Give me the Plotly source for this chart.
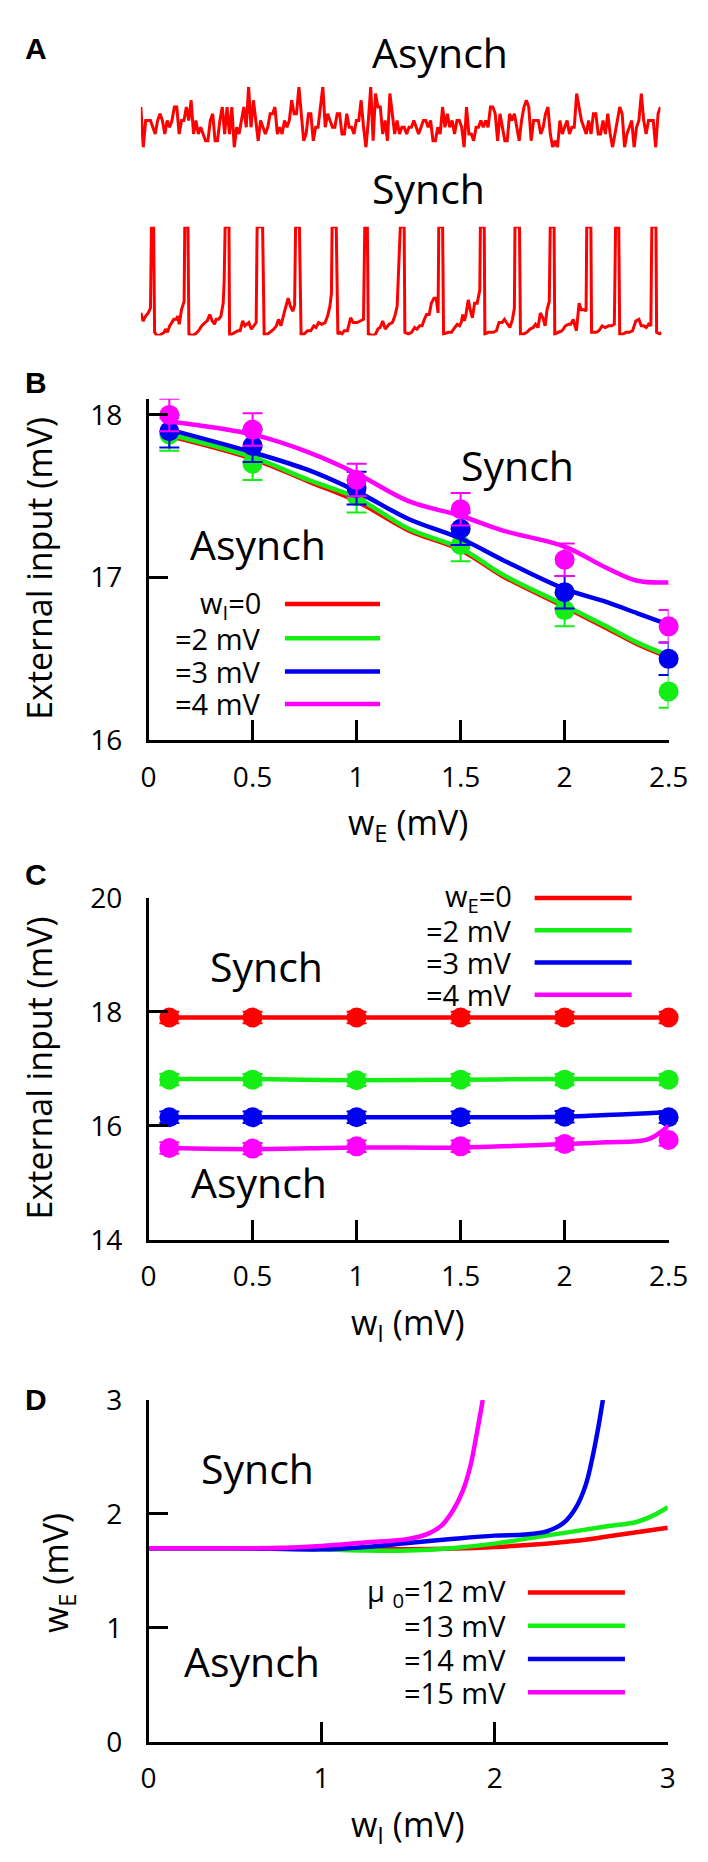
import plotly.graph_objects as go

W, H = 708, 1862
RED, GREEN, BLUE, MAG = "#ff0000", "#14ee14", "#0000f0", "#ff00ff"
FONT = "Open Sans"

# ---------------- Panel A data ----------------
asynch_rate = [6, 0, 4, 4, 4, 3, 2, 4, 5, 4, 2, 4, 3, 4, 6, 6, 2, 4, 4, 6, 4, 7, 2, 4, 2, 3, 2, 1, 1, 4,
               5, 1, 1, 4, 6, 2, 6, 2, 6, 0, 3, 2, 4, 6, 3, 9, 3, 7, 4, 1, 4, 3, 2, 3, 5, 5, 6, 2, 3, 2,
               4, 3, 4, 7, 5, 5, 9, 5, 1, 2, 5, 5, 1, 3, 3, 6, 9, 3, 5, 4, 3, 3, 5, 5, 2, 2, 5, 3, 3, 2,
               4, 4, 7, 3, 0, 4, 9, 1, 8, 6, 6, 2, 4, 1, 8, 5, 2, 4, 2, 3,
               3, 2, 3, 3, 4, 3, 2, 3, 4, 4, 3, 4, 1, 1, 3, 2, 6, 3, 5, 3, 4, 2, 4, 4, 3, 0, 6, 2, 2, 1,
               3, 3, 4, 3, 4, 3, 6, 6, 5, 1, 5, 3, 1, 1, 5, 4, 5, 3, 1, 4, 6, 7, 6, 1, 4, 4, 4, 2, 3, 5,
               6, 2, 0, 1, 0, 4, 2, 3, 4, 2, 3, 3, 8, 6, 4, 3, 2, 4, 2, 5, 5, 2, 2, 4, 2, 5, 2, 0, 2, 4,
               6, 5, 0, 2, 3, 4, 0, 3, 4, 8, 4, 2, 4, 4, 4, 0, 5, 6]

synch_t = [0, 2.3, 5, 7.7, 10,
           11, 13.3,
           14.3, 16.7, 19, 21.7, 24.3, 25.7, 27.7, 30, 32.3, 34.3, 36.7, 38.3, 40, 42.3, 45,
           45.7, 49,
           50, 53.3, 56.7, 60, 63.3, 66.7, 69, 71.7, 74.3, 76.7, 78.3, 81, 83.3, 85.7, 86.7,
           87.7, 91.7,
           92.3, 95, 98.3, 101, 103.3, 106, 108.3, 110, 112.3, 115, 117.7, 120,
           121, 126.7,
           128.3, 131.7, 134.3, 136.7, 138.3, 141, 143.3, 145.7, 147.7, 150, 153.3, 155.7, 158.3, 160,
           161, 165,
           166.7, 170, 173.3, 176.7, 180, 182.3, 185, 188.3, 191.7, 194.3, 196.7, 198.3,
           199, 203.3,
           205, 207.3, 209.3, 211.7, 215, 218.3, 221, 225, 228.3, 231.7,
           233, 235.7,
           236.7, 241, 244.3, 246.7, 249, 251.7, 254.3, 258.3, 261.7, 264.3, 266.7,
           270, 274,
           274.7, 278.3, 281.7, 285, 287.3, 290, 292.7, 295, 297.3, 300, 302.3, 305, 307.3, 309.3,
           310, 314,
           315, 320, 323.3, 326.7, 329.3, 331.7, 333.3, 335, 336.7, 338.3, 340.7, 342.7, 345, 347.3, 350, 352.7,
           353.3, 357.3,
           358, 361.7, 366.7, 370, 372.7, 376, 378.3, 381.7, 384, 386.7, 388.7,
           389.3, 394,
           395, 398.3, 401.7, 405, 408.3, 410.7, 413.3, 415.7, 418.3, 420.7, 422.7, 425,
           426, 430,
           430.7, 435, 438.3, 441.7, 445, 447.3, 450, 451.7, 453.3, 456, 458.3, 461.7, 463.3,
           464, 468.3,
           469, 471.7, 474, 476.7, 480, 483.3, 486.7, 490, 492.7,
           494, 497.3,
           498.3, 501.7, 505, 508.3, 511.7, 515, 518.3, 520.7, 523.3, 526, 528.3, 530.7,
           531.7, 536,
           536.7, 540, 541.7]
synch_v = [-58, -63, -60, -58, -55,
           -5, -5,
           -70, -72, -72, -71, -70, -68, -70, -66, -64, -62, -62, -60, -65, -56, -51,
           -5, -5,
           -71, -72, -71, -69, -66, -64, -63, -59, -63, -65, -62, -62, -60, -52, -38,
           -5, -5,
           -72, -71, -70, -69, -69, -63, -66, -65, -64, -68, -66, -64,
           -5, -5,
           -71, -71, -70, -69, -68, -66, -62, -66, -61, -56, -49, -54, -57, -53,
           -5, -5,
           -71, -71, -69, -69, -66, -67, -64, -65, -64, -60, -54, -46,
           -5, -5,
           -71, -70, -71, -69, -69, -61, -64, -64, -63, -62,
           -5, -5,
           -71, -72, -71, -68, -67, -63, -68, -65, -64, -60, -54,
           -5, -5,
           -70, -71, -70, -67, -68, -66, -66, -62, -59, -59, -52, -49, -49, -58,
           -5, -5,
           -71, -70, -70, -67, -65, -66, -64, -59, -63, -59, -50, -56, -61, -52, -52, -44,
           -5, -5,
           -71, -70, -70, -69, -64, -64, -62, -65, -67, -62, -55,
           -5, -5,
           -71, -71, -70, -68, -67, -65, -67, -58, -61, -66, -56, -51,
           -5, -5,
           -71, -70, -69, -66, -65, -65, -62, -66, -69, -52, -56, -56, -57,
           -5, -5,
           -70, -70, -70, -69, -66, -67, -66, -66, -65,
           -5, -5,
           -71, -71, -70, -70, -69, -63, -62, -66, -66, -67, -65, -66,
           -5, -5,
           -70, -71, -70]

# ---------------- Panel B data ----------------
b_x = [0.1, 0.5, 1.0, 1.5, 2.0, 2.5]
b_green = [17.88, 17.70, 17.50, 17.20, 16.80, 16.30]
b_blue = [17.90, 17.81, 17.55, 17.30, 16.91, 16.50]
b_mag = [18.00, 17.91, 17.60, 17.42, 17.11, 16.70]
b_err = [0.1, 0.1, 0.1, 0.1, 0.1, 0.1]
b_line_x = [0.1, 0.5, 0.77, 1.0, 1.25, 1.5, 1.7, 2.0, 2.2, 2.35, 2.5]
b_line_red = [17.87, 17.73, 17.59, 17.47, 17.29, 17.17, 17.01, 16.82, 16.69, 16.59, 16.51]
b_line_green = [17.88, 17.74, 17.60, 17.49, 17.30, 17.18, 17.02, 16.83, 16.70, 16.60, 16.52]
b_line_blue = [17.91, 17.77, 17.66, 17.53, 17.36, 17.24, 17.11, 16.93, 16.85, 16.78, 16.71]
b_line_mag = [17.96, 17.88, 17.77, 17.64, 17.47, 17.38, 17.29, 17.19, 17.06, 16.98, 16.97]
b_labels = ["w<sub>I</sub>=0", "=2 mV", "=3 mV", "=4 mV"]

# ---------------- Panel C data ----------------
c_x = [0.1, 0.5, 1.0, 1.5, 2.0, 2.5]
c_red = [17.90, 17.90, 17.90, 17.90, 17.90, 17.90]
c_green = [16.81, 16.81, 16.80, 16.81, 16.81, 16.81]
c_blue = [16.15, 16.15, 16.15, 16.15, 16.16, 16.15]
c_mag = [15.61, 15.60, 15.64, 15.64, 15.68, 15.75]
c_err = [0.1, 0.1, 0.1, 0.1, 0.1, 0.1]
c_line_x = [0.1, 0.5, 1.0, 1.5, 2.0, 2.2, 2.4, 2.5]
c_line_red = [17.90, 17.90, 17.90, 17.90, 17.90, 17.90, 17.90, 17.90]
c_line_green = [16.82, 16.82, 16.80, 16.81, 16.82, 16.82, 16.82, 16.82]
c_line_blue = [16.15, 16.15, 16.15, 16.15, 16.16, 16.19, 16.22, 16.24]
c_line_mag = [15.61, 15.59, 15.62, 15.62, 15.68, 15.71, 15.76, 16.00]
c_labels = ["w<sub>E</sub>=0", "=2 mV", "=3 mV", "=4 mV"]

# ---------------- Panel D data ----------------
d_red_x = [0, 0.5, 1.0, 1.5, 2.0, 2.5, 2.64, 2.82, 3.0]
d_red_y = [1.70, 1.70, 1.70, 1.69, 1.71, 1.77, 1.80, 1.84, 1.88]
d_green_x = [0, 0.5, 1.0, 1.25, 1.5, 1.75, 2.0, 2.25, 2.45, 2.64, 2.82, 2.92, 3.0]
d_green_y = [1.70, 1.70, 1.69, 1.68, 1.68, 1.70, 1.74, 1.80, 1.845, 1.89, 1.93, 1.99, 2.06]
d_blue_x = [0, 0.5, 1.0, 1.25, 1.5, 1.75, 2.0, 2.175, 2.305, 2.397, 2.471, 2.527, 2.564, 2.601, 2.625]
d_blue_y = [1.70, 1.70, 1.69, 1.71, 1.745, 1.78, 1.81, 1.82, 1.85, 1.92, 2.06, 2.26, 2.49, 2.78, 3.0]
d_mag_x = [0, 0.5, 0.7, 1.0, 1.25, 1.5, 1.62, 1.694, 1.759, 1.815, 1.861, 1.898, 1.931]
d_mag_y = [1.70, 1.70, 1.70, 1.72, 1.75, 1.78, 1.83, 1.90, 2.03, 2.20, 2.43, 2.72, 3.0]
d_labels = ["\u03bc <sub>0</sub>=12 mV", "=13 mV", "=14 mV", "=15 mV"]

COLORS = [RED, GREEN, BLUE, MAG]


def px(x):
    return x / W


def py(y):
    return 1 - y / H


fig = go.Figure()

# Panel A
fig.add_trace(go.Scatter(x=list(range(len(asynch_rate))), y=asynch_rate, mode="lines",
                         line=dict(color=RED, width=3), xaxis="x", yaxis="y", cliponaxis=False))
fig.add_trace(go.Scatter(x=synch_t, y=synch_v, mode="lines",
                         line=dict(color=RED, width=3), xaxis="x2", yaxis="y2", cliponaxis=False))

# Panel B
fig.add_trace(go.Scatter(x=b_line_x, y=b_line_red, mode="lines",
                         line=dict(color=RED, width=4.5, shape="spline"),
                         xaxis="x3", yaxis="y3", cliponaxis=False))
for ly, pts, col in [(b_line_green, b_green, GREEN), (b_line_blue, b_blue, BLUE), (b_line_mag, b_mag, MAG)]:
    fig.add_trace(go.Scatter(x=b_line_x, y=ly, mode="lines", line=dict(color=col, width=4.5, shape="spline"),
                             xaxis="x3", yaxis="y3", cliponaxis=False))
    fig.add_trace(go.Scatter(x=b_x, y=pts, mode="markers", marker=dict(color=col, size=20),
                             error_y=dict(type="data", array=b_err, color=col, thickness=2, width=10),
                             xaxis="x3", yaxis="y3", cliponaxis=False))

# Panel C
for ly, pts, col in [(c_line_red, c_red, RED), (c_line_green, c_green, GREEN),
                     (c_line_blue, c_blue, BLUE), (c_line_mag, c_mag, MAG)]:
    fig.add_trace(go.Scatter(x=c_line_x, y=ly, mode="lines", line=dict(color=col, width=4.5, shape="spline"),
                             xaxis="x4", yaxis="y4", cliponaxis=False))
    fig.add_trace(go.Scatter(x=c_x, y=pts, mode="markers", marker=dict(color=col, size=20),
                             error_y=dict(type="data", array=c_err, color=col, thickness=2, width=10),
                             xaxis="x4", yaxis="y4", cliponaxis=False))

# Panel D
for lx, ly, col in [(d_red_x, d_red_y, RED), (d_green_x, d_green_y, GREEN),
                    (d_blue_x, d_blue_y, BLUE), (d_mag_x, d_mag_y, MAG)]:
    fig.add_trace(go.Scatter(x=lx, y=ly, mode="lines", line=dict(color=col, width=4.5, shape="spline"),
                             xaxis="x5", yaxis="y5", cliponaxis=False))

hidden = dict(visible=False, showgrid=False, zeroline=False)
tickfont = dict(family=FONT, size=28, color="black")


def vis_axis(domain, rng, tickvals, ticktext, standoff):
    return dict(domain=domain, range=rng, tickvals=tickvals, ticktext=ticktext,
                showline=True, linecolor="black", linewidth=2.5, ticks="inside", ticklen=20,
                tickwidth=2.5, tickcolor="black", showgrid=False, zeroline=False,
                tickfont=tickfont, ticklabelstandoff=standoff, fixedrange=True)


XL, XR_B, XR_D = 138, 679.5, 678.6
fig.update_layout(
    width=W, height=H, margin=dict(l=0, r=0, t=0, b=0), showlegend=False,
    paper_bgcolor="white", plot_bgcolor="white",
    xaxis=dict(domain=[px(130), px(671)], range=[0, len(asynch_rate) - 1], anchor="y", **hidden),
    yaxis=dict(domain=[py(122), py(60)], range=[0, 9], anchor="x", **hidden),
    xaxis2=dict(domain=[px(130), px(672)], range=[0, 541.7], anchor="y2", **hidden),
    yaxis2=dict(domain=[py(314), py(203)], range=[-72, -5], anchor="x2", **hidden),
    xaxis3=dict(anchor="y3", **vis_axis([px(XL), px(XR_B)], [0, 2.5], [0, 0.5, 1, 1.5, 2, 2.5],
                                        ["0", "0.5", "1", "1.5", "2", "2.5"], 10)),
    yaxis3=dict(anchor="x3", **vis_axis([py(727), py(378.4)], [16, 18.1], [16, 17, 18],
                                        ["16", "17", "18"], 18)),
    xaxis4=dict(anchor="y4", **vis_axis([px(XL), px(XR_B)], [0, 2.5], [0, 0.5, 1, 1.5, 2, 2.5],
                                        ["0", "0.5", "1", "1.5", "2", "2.5"], 10)),
    yaxis4=dict(anchor="x4", **vis_axis([py(1237), py(888)], [14, 20], [14, 16, 18, 20],
                                        ["14", "16", "18", "20"], 18)),
    xaxis5=dict(anchor="y5", **vis_axis([px(XL), px(XR_D)], [0, 3], [0, 1, 2, 3],
                                        ["0", "1", "2", "3"], 10)),
    yaxis5=dict(anchor="x5", **vis_axis([py(1749.6), py(1400.6)], [0, 3], [0, 1, 2, 3],
                                        ["0", "1", "2", "3"], 18)),
)

ann = []


def text(s, x, y, size, angle=0, xanchor="center", family=FONT):
    ann.append(dict(text=s, x=px(x), y=py(y), xref="paper", yref="paper", showarrow=False,
                    xanchor=xanchor, yanchor="middle", textangle=angle,
                    font=dict(family=family, size=size, color="black")))


# panel letters
for lab, yy in [("A", 21), ("B", 362), ("C", 864), ("D", 1400)]:
    text("<b>%s</b>" % lab, 21, yy, 30, family="Liberation Sans")

# state labels
text("Asynch", 441, 24, 41)
text("Synch", 429, 163, 41)
text("Synch", 522, 446, 41)
text("Asynch", 252, 527, 41)
text("Synch", 261, 958, 41)
text("Asynch", 253, 1178, 41)
text("Synch", 251, 1470, 41)
text("Asynch", 246, 1667, 41)

# axis titles
text("External input (mV)", 24, 552, 34, angle=-90)
text("External input (mV)", 24, 1062, 34, angle=-90)
text("w<sub>E</sub> (mV)", 43, 1577, 34, angle=-90)
text("w<sub>E</sub> (mV)", 408, 813, 34)
text("w<sub>I</sub> (mV)", 408, 1323, 34)
text("w<sub>I</sub> (mV)", 408, 1835, 34)

# legends (text right-aligned, key line to the right)
shapes = []
for labels, tx, ys, lx0, lx1 in [(b_labels, 257, [588, 623, 657, 690], 280, 379),
                                  (c_labels, 519, [888, 921, 954, 987], 540, 641),
                                  (d_labels, 512, [1597, 1631, 1665, 1699], 533, 634)]:
    for lab, yy, col in zip(labels, ys, COLORS):
        text(lab, tx, yy, 29, xanchor="right")
        shapes.append(dict(type="line", xref="paper", yref="paper", x0=px(lx0), x1=px(lx1),
                           y0=py(yy), y1=py(yy), line=dict(color=col, width=4.5)))

fig.update_layout(annotations=ann, shapes=shapes)
fig.write_html("out.html")
